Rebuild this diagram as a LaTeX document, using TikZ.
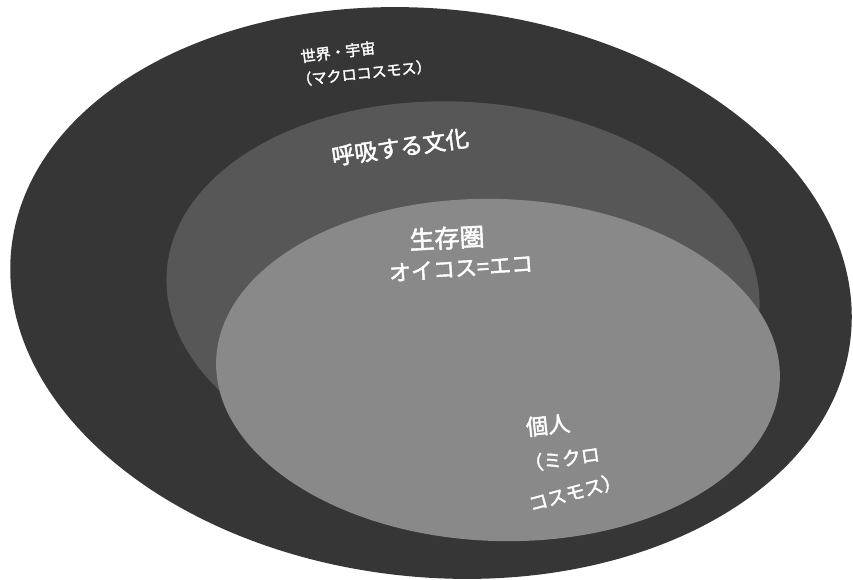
\documentclass[tikz,border=0pt]{standalone}
\usepackage{fontspec}
\newfontfamily\jp[FakeBold=2]{Noto Sans CJK JP}
\definecolor{outerc}{HTML}{363636}
\definecolor{midc}{HTML}{575757}
\definecolor{innerc}{HTML}{898989}
\tikzset{
  lbl/.style={text=white, inner sep=0pt, anchor=center},
  fs/.style={font=\jp\fontsize{#1}{#1}\selectfont}
}
\begin{document}
\begin{tikzpicture}[x=1pt,y=1pt]
\useasboundingbox (0,0) rectangle (853,579);
\fill[white] (0,0) rectangle (853,579);
% zones
\fill[outerc, rotate around={-6:(431,286)}] (431,286) ellipse [x radius=422pt, y radius=284pt];
\fill[midc, rotate around={-4:(463,287)}] (463,287) ellipse [x radius=297pt, y radius=190pt];
\fill[innerc, rotate around={-2:(498,209)}] (498,209) ellipse [x radius=282pt, y radius=171pt];
% labels
\node[lbl, fs=15, rotate=7] (world) at (338,527) {世界・宇宙};
\node[lbl, fs=15, rotate=6] (macro) at (364,506) {（マクロコスモス）};
\node[lbl, fs=23, rotate=8] (culture) at (400,432) {呼吸する文化};
\node[lbl, fs=25, rotate=3] (sphere) at (447,341) {生存圏};
\node[lbl, fs=22, rotate=4] (oikos) at (461,311) {オイコス=エコ};
\node[lbl, fs=22, rotate=6] (indiv) at (548,154) {個人};
\node[lbl, fs=19, rotate=8] (micro) at (562,120) {（ミクロ};
\node[lbl, fs=19, rotate=15] (cosmos) at (575,87) {コスモス）};
\end{tikzpicture}
\end{document}
